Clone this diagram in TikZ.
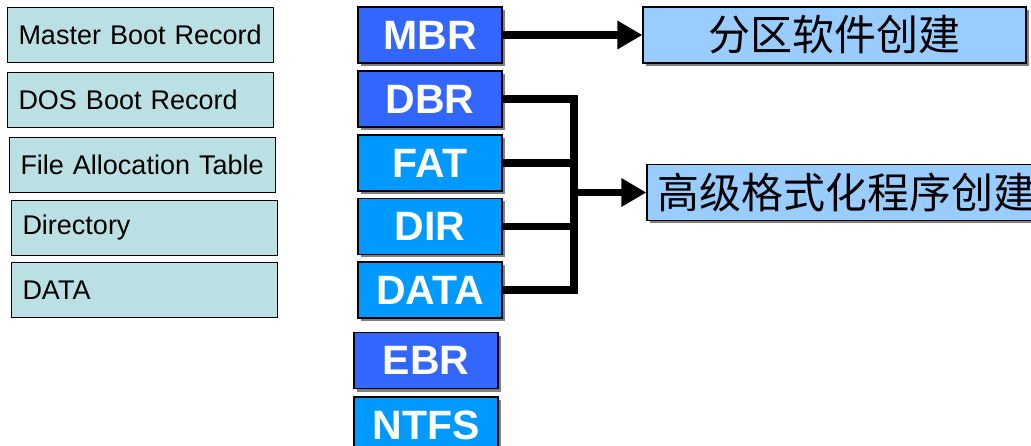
\documentclass[tikz,border=0pt]{standalone}
\usepackage{fontspec}
\setmainfont{Liberation Sans}
\newfontfamily\cjk{Noto Sans CJK SC}
\usepackage{tikz}
\usetikzlibrary{arrows.meta,shadows}
\definecolor{rec_green}{RGB}{187, 224, 227}
\definecolor{rec_blue}{RGB}{51, 102, 255}
\definecolor{rec_sky}{RGB}{0, 153, 255}
\definecolor{tool_blue}{RGB}{153, 204, 255}

\begin{document}
\begin{tikzpicture}[x=1pt, y=1pt,
  fullname/.style={draw, line width=1pt, fill=rec_green, anchor=north west,
    minimum height=55pt, text width=244pt, inner xsep=11pt, align=left,
    font=\fontsize{27}{29}\selectfont},
  shortname/.style={draw, line width=1.2pt, fill=#1, text=white,
    minimum width=144pt, minimum height=56pt, inner sep=0pt,
    font=\fontsize{41}{41}\selectfont\bfseries,
    drop shadow={shadow xshift=3pt, shadow yshift=-3pt, fill=gray, opacity=1}},
  creator/.style={draw, line width=1.2pt, fill=tool_blue, inner sep=0pt,
    minimum height=56pt, font=\fontsize{42}{42}\selectfont\cjk,
    drop shadow={shadow xshift=3pt, shadow yshift=-3pt, fill=gray, opacity=1}},
  link/.style={line width=7.5pt},
  arrow/.style={line width=7.5pt, -{Triangle[length=25pt, width=27pt]}}]
\useasboundingbox (0, 0) rectangle (1031, 445);
\clip (0, 0) rectangle (1031, 445);

% full names
\node[fullname] (mbrname) at (7, 438) {Master Boot Record};
\node[fullname] (dbrname) at (7, 373) {DOS Boot Record};
\node[fullname] (fatname) at (9, 308) {File Allocation Table};
\node[fullname] (dirname) at (11, 245) {Directory};
\node[fullname] (dataname) at (11, 183) {DATA};

% short names
\node[shortname=rec_blue] (mbr) at (430, 410) {MBR};
\node[shortname=rec_blue] (dbr) at (430, 346) {DBR};
\node[shortname=rec_sky] (fat) at (430, 282) {FAT};
\node[shortname=rec_sky] (dir) at (430, 218.5) {DIR};
\node[shortname=rec_sky] (data) at (430, 155) {DATA};
\node[shortname=rec_blue] (ebr) at (426, 84.5) {EBR};
\node[shortname=rec_sky] (ntfs) at (426, 20) {NTFS};

% who creates them
\node[creator, minimum width=383pt] (part) at (834.5, 410) {分区软件创建};
\node[creator, minimum width=400pt, text width=380pt, inner xsep=10pt, align=left]
  (fmt) at (847, 252.5) {高级格式化程序创建};

\draw[arrow] (mbr.east) -- (part.west);

\coordinate (bus) at (574, 155);
\draw[link] (dbr.east) -| (bus) |- (data.east);
\foreach \n in {fat, dir}
  \draw[link] (\n.east) -- (\n.east -| bus);
\draw[arrow] (fmt.west -| bus) -- (fmt.west);

\end{tikzpicture}
\end{document}
